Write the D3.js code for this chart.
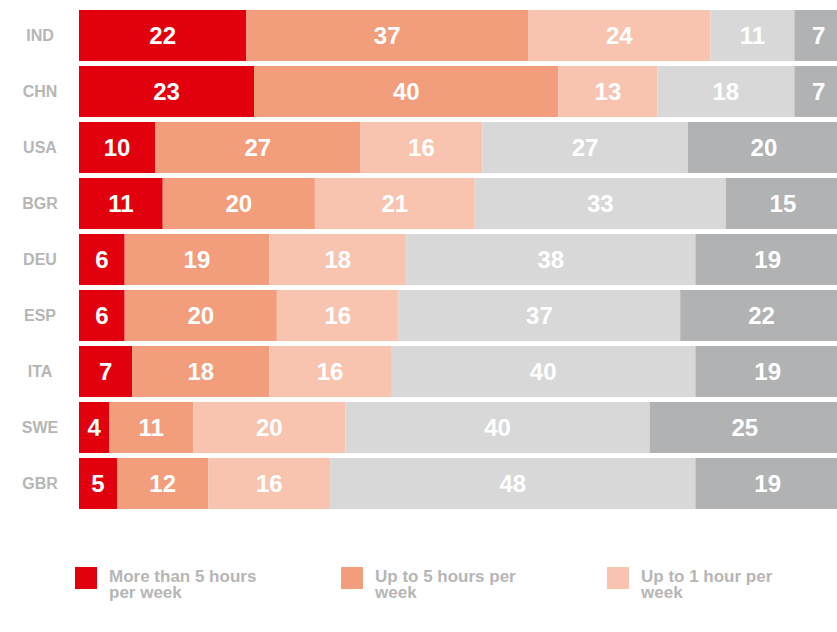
<!DOCTYPE html>
<html>
<head>
<meta charset="utf-8">
<script src="https://cdn.jsdelivr.net/npm/d3@7/dist/d3.min.js"></script>
<style>
  html, body { margin: 0; padding: 0; background: #fff; overflow: hidden; }
  svg { display: block; font-family: "Liberation Sans", Arial, Helvetica, sans-serif; }
</style>
</head>
<body>
<svg id="chart" width="837" height="632"></svg>
<script>
// ---- Data ----
const countries = ["IND", "CHN", "USA", "BGR", "DEU", "ESP", "ITA", "SWE", "GBR"];
const seriesNames = [
  "More than 5 hours per week",
  "Up to 5 hours per week",
  "Up to 1 hour per week",
  "Less than 1 hour per week",
  "Not at all"
];
const moreThan5 = [22, 23, 10, 11, 6, 6, 7, 4, 5];
const upTo5     = [37, 40, 27, 20, 19, 20, 18, 11, 12];
const upTo1     = [24, 13, 16, 21, 18, 16, 16, 20, 16];
const lessThan1 = [11, 18, 27, 33, 38, 37, 40, 40, 48];
const notAtAll  = [7, 7, 20, 15, 19, 22, 19, 25, 19];
const seriesValues = [moreThan5, upTo5, upTo1, lessThan1, notAtAll];
const colors = ["#e2000f", "#f29d7b", "#f8c4b0", "#d7d8d7", "#b1b2b4"];
// legend entries visible within the frame
const legendNames = seriesNames.slice(0, 3);

// ---- Build stacked table ----
const table = countries.map((c, i) => {
  const row = { country: c };
  seriesNames.forEach((s, j) => row[s] = seriesValues[j][i]);
  return row;
});
const stacked = d3.stack().keys(seriesNames)(table);

const svg = d3.select("#chart");

const x = d3.scaleLinear().domain([0, 100]).range([79, 840]);
const y = d3.scaleBand().domain(countries).range([10, 509]).paddingInner(5 / 56).paddingOuter(0);

// ---- Bars ----
const layers = svg.append("g").selectAll("g")
  .data(stacked).join("g")
  .attr("fill", (d, i) => colors[i]);

layers.selectAll("rect")
  .data(d => d.map(p => ({ p, key: d.key })))
  .join("rect")
  .attr("x", d => x(d.p[0]))
  .attr("y", d => y(d.p.data.country))
  .attr("width", d => x(d.p[1]) - x(d.p[0]))
  .attr("height", y.bandwidth());

// value labels
layers.selectAll("text")
  .data(d => d.map(p => ({ p, key: d.key })))
  .join("text")
  .attr("x", d => (x(d.p[0]) + Math.min(x(d.p[1]), 843)) / 2)
  .attr("y", d => y(d.p.data.country) + y.bandwidth() / 2)
  .attr("dy", "0.36em")
  .attr("text-anchor", "middle")
  .attr("fill", "#ffffff")
  .attr("font-weight", "bold")
  .attr("font-size", "24px")
  .text(d => d.p[1] - d.p[0]);

// ---- Country axis ----
const yAxis = d3.axisLeft(y).tickSize(0).tickPadding(0);
const ya = svg.append("g").attr("transform", "translate(40,0)").call(yAxis);
ya.select(".domain").remove();
ya.selectAll("text")
  .attr("text-anchor", "middle")
  .attr("fill", "#b6b6b6")
  .attr("font-weight", "bold")
  .attr("font-size", "16px")
  .attr("font-family", "'Liberation Sans', Arial, Helvetica, sans-serif");

// ---- Legend ----
const legend = svg.append("g").selectAll("g")
  .data(legendNames).join("g")
  .attr("transform", (d, i) => `translate(${75 + i * 266},567)`);

legend.append("rect")
  .attr("width", 22).attr("height", 22)
  .attr("fill", (d, i) => colors[i]);

legend.append("text")
  .attr("x", 34)
  .attr("y", 15)
  .attr("fill", "#b6b6b6")
  .attr("font-weight", "bold")
  .attr("font-size", "17px")
  .each(function(d) {
    const t = d3.select(this);
    const words = d.split(" ");
    const maxW = 160;
    let line = [];
    let tspan = t.append("tspan").attr("x", 34).attr("dy", 0);
    words.forEach(w => {
      line.push(w);
      tspan.text(line.join(" "));
      if (tspan.node().getComputedTextLength() > maxW && line.length > 1) {
        line.pop();
        tspan.text(line.join(" "));
        line = [w];
        tspan = t.append("tspan").attr("x", 34).attr("dy", "16px").text(w);
      }
    });
  });
</script>
</body>
</html>
